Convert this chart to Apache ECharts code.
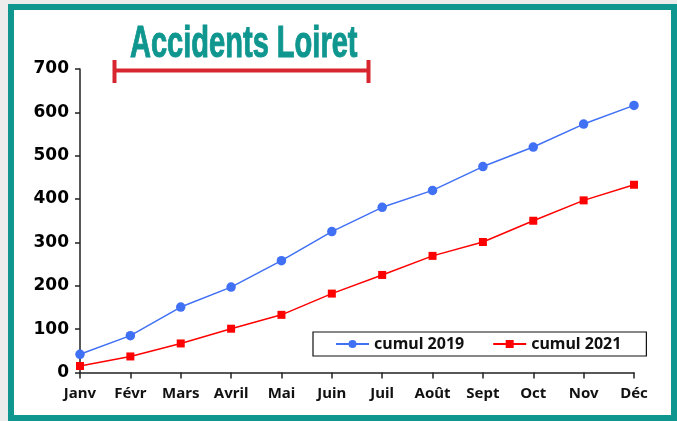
<!DOCTYPE html>
<html>
<head>
<meta charset="utf-8" />
<script src="https://cdn.jsdelivr.net/npm/echarts@6/dist/echarts.min.js"></script>
<style>
  html, body { margin: 0; padding: 0; background: #ececec; }
  #chart { width: 677px; height: 421px; }
</style>
</head>
<body>
<div id="chart"></div>
<script>
const months = ['Janv', 'Févr', 'Mars', 'Avril', 'Mai', 'Juin', 'Juil', 'Août', 'Sept', 'Oct', 'Nov', 'Déc'];
const cumul2019 = [42, 85, 151, 197, 258, 325, 381, 420, 475, 520, 573, 616];
const cumul2021 = [15, 37, 67, 101, 133, 182, 225, 269, 301, 350, 397, 433];
const yTicks = { min: 0, max: 700, interval: 100 };

const chart = echarts.init(document.getElementById('chart'));

const option = {
  animation: false,
  backgroundColor: 'transparent',
  graphic: [
    // teal frame
    {
      type: 'rect', z: -10, silent: true,
      shape: { x: 11, y: 7, width: 663, height: 411 },
      style: { fill: '#fff', stroke: '#0e968f', lineWidth: 6 }
    },
    // title
    {
      type: 'text', x: 130, y: 45, scaleX: 0.66,
      style: {
        text: 'Accidents Loiret', x: 0, y: 0,
        textAlign: 'left', textVerticalAlign: 'middle',
        font: 'bold 44px "Liberation Sans", Arial, sans-serif',
        fill: '#0e968f', stroke: '#0e968f', lineWidth: 1
      }
    },
    // red bracket under title
    {
      type: 'group',
      children: [
        { type: 'line', shape: { x1: 113, y1: 70.5, x2: 370, y2: 70.5 }, style: { stroke: '#d7262f', lineWidth: 4 } },
        { type: 'line', shape: { x1: 114.5, y1: 60, x2: 114.5, y2: 83 }, style: { stroke: '#d7262f', lineWidth: 4 } },
        { type: 'line', shape: { x1: 368.5, y1: 60, x2: 368.5, y2: 83 }, style: { stroke: '#d7262f', lineWidth: 4 } }
      ]
    }
  ],
  legend: {
    left: 313, top: 332,
    orient: 'horizontal',
    borderColor: '#111', borderWidth: 1.2,
    padding: [4, 25, 4, 22],
    itemGap: 28, itemWidth: 33, itemHeight: 10,
    textStyle: { fontFamily: '"Noto Sans", sans-serif', fontWeight: 'bold', fontSize: 16, color: '#111' },
    data: ['cumul 2019', 'cumul 2021']
  },
  grid: { left: 80, right: 43, top: 69, bottom: 48.5 },
  xAxis: {
    type: 'category',
    boundaryGap: false,
    data: months,
    axisLine: { lineStyle: { color: '#222', width: 1.5 } },
    axisTick: { show: true, alignWithLabel: true, length: 6, lineStyle: { color: '#222', width: 1.5 } },
    axisLabel: { color: '#111', fontFamily: '"Noto Sans", sans-serif', fontWeight: 'bold', fontSize: 15, margin: 14 },
    splitLine: { show: false }
  },
  yAxis: {
    type: 'value',
    min: yTicks.min, max: yTicks.max, interval: yTicks.interval,
    axisLine: { show: true, lineStyle: { color: '#222', width: 1.5 } },
    axisTick: { show: true, length: 5, lineStyle: { color: '#222', width: 1.5 } },
    axisLabel: { color: '#000', fontFamily: '"DejaVu Sans", sans-serif', fontWeight: 'bold', fontSize: 17, margin: 11 },
    splitLine: { show: false }
  },
  series: [
    {
      name: 'cumul 2019',
      type: 'line',
      data: cumul2019,
      symbol: 'circle', symbolSize: 9.5,
      lineStyle: { color: '#4070f4', width: 1.5 },
      itemStyle: { color: '#4070f4' }
    },
    {
      name: 'cumul 2021',
      type: 'line',
      data: cumul2021,
      symbol: 'rect', symbolSize: 8,
      lineStyle: { color: '#ff0000', width: 1.5 },
      itemStyle: { color: '#ff0000' }
    }
  ]
};

chart.setOption(option);
</script>
</body>
</html>
